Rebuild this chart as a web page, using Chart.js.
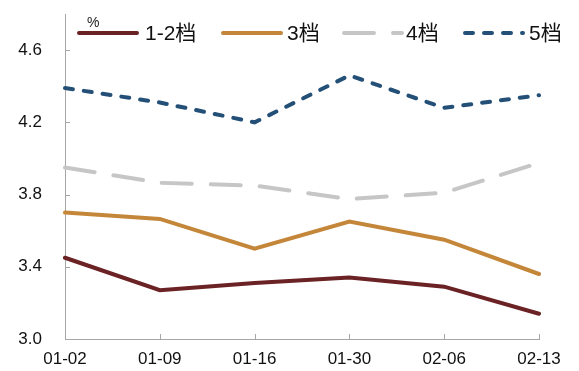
<!DOCTYPE html>
<html>
<head>
<meta charset="utf-8">
<script src="https://cdn.jsdelivr.net/npm/chart.js@4/dist/chart.umd.min.js"></script>
<style>
    html, body { margin: 0; padding: 0; background: #fff; }
    #wrap { width: 579px; height: 371px; }
</style>
</head>
<body>
<div id="wrap"><canvas id="rateChart"></canvas></div>
<script>
// Dates and series
const dates = ['01-02', '01-09', '01-16', '01-30', '02-06', '02-13'];
const tier12 = [3.45, 3.27, 3.31, 3.34, 3.29, 3.14];
const tier3 = [3.70, 3.665, 3.50, 3.65, 3.55, 3.36];
const tier4 = [3.95, 3.865, 3.85, 3.775, 3.81, 3.975];
const tier5 = [4.39, 4.31, 4.20, 4.46, 4.28, 4.35];
const yTickValues = [3.0, 3.4, 3.8, 4.2, 4.6];
const yTickLabels = ['3.0', '3.4', '3.8', '4.2', '4.6'];
const seriesNames = ['1-2档', '3档', '4档', '5档'];

const FONT = '"Liberation Sans", "Noto Sans CJK SC", Arial, sans-serif';

// Inward tick marks, the % unit and the in-plot legend
const decorPlugin = {
    id: 'decor',
    afterDraw(chart) {
        const ctx = chart.ctx;
        const x = chart.scales.x;
        const y = chart.scales.y;
        const area = chart.chartArea;
        ctx.save();
        ctx.strokeStyle = '#a6a6a6';
        ctx.lineWidth = 1;
        ctx.beginPath();
        y.ticks.forEach((t, i) => {
            const py = Math.round(y.getPixelForTick(i)) + 0.5;
            ctx.moveTo(area.left, py);
            ctx.lineTo(area.left + 5, py);
        });
        x.ticks.forEach((t, i) => {
            const px = Math.round(x.getPixelForTick(i)) + 0.5;
            ctx.moveTo(px, area.bottom);
            ctx.lineTo(px, area.bottom - 5);
        });
        ctx.stroke();

        ctx.fillStyle = '#222';
        ctx.font = '14px ' + FONT;
        ctx.textBaseline = 'alphabetic';
        ctx.fillText('%', 87, 27);

        // legend entries
        const lineStarts = [77, 221, 342, 463];
        const textStarts = [145, 287, 406, 529];
        const legendY = 33;
        chart.data.datasets.forEach((ds, i) => {
            ctx.beginPath();
            ctx.strokeStyle = ds.borderColor;
            ctx.lineWidth = 4;
            ctx.lineCap = ds.borderCapStyle || 'butt';
            ctx.setLineDash(ds.borderDash || []);
            ctx.moveTo(lineStarts[i] + 2, legendY);
            ctx.lineTo(lineStarts[i] + 60, legendY);
            ctx.stroke();
            ctx.setLineDash([]);
            ctx.fillStyle = '#111';
            ctx.font = '21px ' + FONT;
            ctx.textBaseline = 'middle';
            ctx.fillText(ds.label, textStarts[i], legendY + 1);
        });
        ctx.restore();
    }
};

const ctx = document.getElementById('rateChart').getContext('2d');
new Chart(ctx, {
    type: 'line',
    data: {
        labels: dates,
        datasets: [
            {
                label: seriesNames[0],
                data: tier12,
                borderColor: '#6b2224',
                borderWidth: 4,
                borderCapStyle: 'round'
            },
            {
                label: seriesNames[1],
                data: tier3,
                borderColor: '#c4873a',
                borderWidth: 4,
                borderCapStyle: 'round'
            },
            {
                label: seriesNames[2],
                data: tier4,
                borderColor: '#c6c6c6',
                borderWidth: 4,
                borderDash: [30, 19],
                borderCapStyle: 'round'
            },
            {
                label: seriesNames[3],
                data: tier5,
                borderColor: '#245077',
                borderWidth: 4,
                borderDash: [8, 11],
                borderCapStyle: 'round'
            }
        ]
    },
    options: {
        responsive: true,
        maintainAspectRatio: false,
        animation: false,
        layout: { padding: { left: 0, right: 40, top: 14, bottom: 0 } },
        elements: {
            point: { radius: 0, hoverRadius: 0 },
            line: { tension: 0, fill: false }
        },
        plugins: {
            legend: { display: false },
            tooltip: { enabled: false }
        },
        scales: {
            x: {
                offset: false,
                grid: { display: true, drawOnChartArea: false, drawTicks: true, tickLength: 8, color: 'rgba(0,0,0,0)' },
                border: { display: true, color: '#a6a6a6', width: 1 },
                ticks: {
                    color: '#111',
                    font: { family: FONT, size: 17 },
                    padding: 2,
                    maxRotation: 0,
                    autoSkip: false
                },
                afterFit(scale) { scale.height = 32; }
            },
            y: {
                min: 3.0,
                max: 4.8,
                grid: { display: true, drawOnChartArea: false, drawTicks: true, tickLength: 20, color: 'rgba(0,0,0,0)' },
                border: { display: true, color: '#a6a6a6', width: 1 },
                afterBuildTicks(scale) {
                    scale.ticks = yTickValues.map(v => ({ value: v }));
                },
                ticks: {
                    color: '#111',
                    font: { family: FONT, size: 17 },
                    padding: 3,
                    callback: function(value) {
                        const i = yTickValues.findIndex(v => Math.abs(v - value) < 1e-6);
                        return i >= 0 ? yTickLabels[i] : '';
                    }
                },
                afterFit(scale) { scale.width = 65; }
            }
        }
    },
    plugins: [decorPlugin]
});
</script>
</body>
</html>
